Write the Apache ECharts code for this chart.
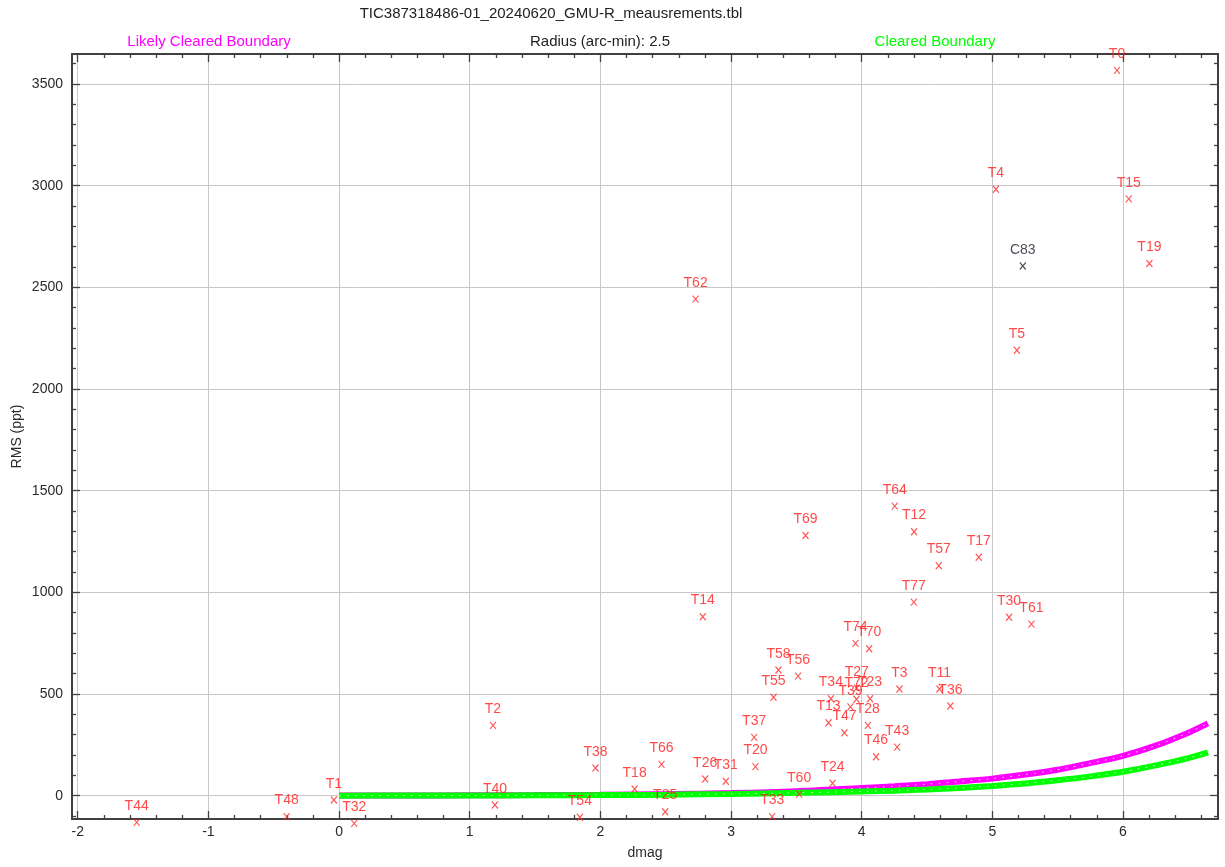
<!DOCTYPE html>
<html>
<head>
<meta charset="utf-8">
<script src="https://cdn.jsdelivr.net/npm/echarts@6/dist/echarts.min.js"></script>
<style>
html,body{margin:0;padding:0;background:#fff;}
#chart{width:1225px;height:867px;}
</style>
</head>
<body>
<div id="chart"></div>
<script>
// ---- data ----
const targetNames = ['T0','T4','T15','T19','T5','T62','T64','T12','T69','T57','T17','T77','T14','T30','T61','T74','T70','T58','T56','T55','T3','T11','T36','T27','T72','T23','T34','T39','T13','T47','T28','T46','T43','T37','T20','T24','T60','T33','T26','T31','T66','T38','T18','T25','T54','T2','T40','T1','T32','T48','T44'];
const targetDmag = [5.954,5.027,6.044,6.202,5.188,2.729,4.253,4.401,3.570,4.590,4.896,4.399,2.784,5.128,5.299,3.953,4.057,3.363,3.513,3.325,4.289,4.595,4.679,3.962,3.960,4.064,3.764,3.914,3.746,3.868,4.047,4.110,4.271,3.177,3.187,3.777,3.521,3.315,2.802,2.960,2.468,1.963,2.262,2.496,1.843,1.178,1.193,-0.039,0.116,-0.401,-1.549];
const targetRms = [3567,2982,2935,2617,2191,2442,1424,1298,1280,1131,1173,952,880,878,844,749,723,618,588,484,525,525,441,529,474,477,477,437,359,310,346,192,239,287,143,61,8,-103,82,71,154,136,33,-79,-106,346,-46,-21,-136,-103,-131];

const compNames = ['C83'];
const compDmag = [5.233];
const compRms = [2605];

const curveDmag = [0,0.5,1,1.5,2,2.5,3,3.5,4,4.25,4.5,4.75,5,5.25,5.5,5.75,6,6.25,6.5,6.65];
const likelyClearedRms = [1,1,2,3,5,8,13,22,38,46,57,70,84,104,128,160,196,246,310,356];
const clearedRms = [0,1,1,2,3,5,9,14,21,25,31,38,48,60,76,95,118,149,185,213];

const xMajorTicks = [-2,-1,0,1,2,3,4,5,6];
const xMinorTicks = [-1.8,-1.6,-1.4,-1.2,-0.8,-0.6,-0.4,-0.2,0.2,0.4,0.6,0.8,1.2,1.4,1.6,1.8,2.2,2.4,2.6,2.8,3.2,3.4,3.6,3.8,4.2,4.4,4.6,4.8,5.2,5.4,5.6,5.8,6.2,6.4,6.6];
const yMajorTicks = [0,500,1000,1500,2000,2500,3000,3500];
const yMinorTicks = [-100,100,200,300,400,600,700,800,900,1100,1200,1300,1400,1600,1700,1800,1900,2100,2200,2300,2400,2600,2700,2800,2900,3100,3200,3300,3400,3600];

const X_MIN = -2.044, X_MAX = 6.727, Y_MIN = -114.5, Y_MAX = 3647.5;

// ---- styling ----
const FONT = '"Liberation Sans", Arial, sans-serif';
const AXIS_COLOR = '#404040';
const GRID_COLOR = '#c8c8c8';

function makeAxis(kind, position, ticks, len, main) {
  return {
    type: 'value', position: position, min: kind === 'x' ? X_MIN : Y_MIN, max: kind === 'x' ? X_MAX : Y_MAX,
    splitNumber: 8,
    axisLine: { show: !!main, onZero: false, lineStyle: { color: AXIS_COLOR, width: 2 } },
    axisTick: { show: true, inside: true, length: len, customValues: ticks, lineStyle: { color: AXIS_COLOR, width: 1.3 } },
    axisLabel: { show: false },
    splitLine: { show: false },
    minorTick: { show: false },
    minorSplitLine: { show: false }
  };
}

const plainNum = v => String(v);

const xMain = makeAxis('x', 'bottom', xMajorTicks, 8, true);
xMain.axisLabel = { show: true, customValues: xMajorTicks, formatter: plainNum, fontSize: 14, fontFamily: FONT, color: '#2a2a2a', margin: 6 };
xMain.splitLine = { show: true, lineStyle: { color: GRID_COLOR, width: 1 } };
xMain.name = 'dmag';
xMain.nameLocation = 'middle';
xMain.nameGap = 27;
xMain.nameMoveOverlap = false;
xMain.nameTextStyle = { fontSize: 14, fontFamily: FONT, color: '#2a2a2a' };

const yMain = makeAxis('y', 'left', yMajorTicks, 8, true);
yMain.axisLabel = { show: true, customValues: yMajorTicks, formatter: plainNum, fontSize: 14, fontFamily: FONT, color: '#2a2a2a', margin: 9 };
yMain.splitLine = { show: true, lineStyle: { color: GRID_COLOR, width: 1 } };
yMain.name = 'RMS (ppt)';
yMain.nameLocation = 'middle';
yMain.nameGap = 48;
yMain.nameRotate = 90;
yMain.nameMoveOverlap = false;
yMain.nameTextStyle = { fontSize: 14, fontFamily: FONT, color: '#2a2a2a' };

const option = {
  animation: false,
  backgroundColor: '#ffffff',
  grid: { left: 72, right: 7, top: 54, bottom: 48, containLabel: false, outerBoundsMode: 'none' },
  graphic: [
    { type: 'text', x: 551, y: 14, style: { text: 'TIC387318486-01_20240620_GMU-R_meausrements.tbl', font: '15px ' + FONT, fill: '#222', align: 'center', verticalAlign: 'middle' } },
    { type: 'text', x: 209, y: 42, style: { text: 'Likely Cleared Boundary', font: '15px ' + FONT, fill: '#ff00ff', align: 'center', verticalAlign: 'middle' } },
    { type: 'text', x: 600, y: 42, style: { text: 'Radius (arc-min): 2.5', font: '15px ' + FONT, fill: '#222', align: 'center', verticalAlign: 'middle' } },
    { type: 'text', x: 935, y: 42, style: { text: 'Cleared Boundary', font: '15px ' + FONT, fill: '#00ff00', align: 'center', verticalAlign: 'middle' } }
  ],
  xAxis: [
    xMain,
    makeAxis('x', 'bottom', xMinorTicks, 4, false),
    makeAxis('x', 'top', xMajorTicks, 8, true),
    makeAxis('x', 'top', xMinorTicks, 4, false)
  ],
  yAxis: [
    yMain,
    makeAxis('y', 'left', yMinorTicks, 4, false),
    makeAxis('y', 'right', yMajorTicks, 8, true),
    makeAxis('y', 'right', yMinorTicks, 4, false)
  ],
  series: [
    {
      name: 'Likely Cleared Boundary', type: 'line', xAxisIndex: 0, yAxisIndex: 0,
      data: curveDmag.map((d, i) => [d, likelyClearedRms[i]]),
      showSymbol: false, smooth: 0.3, z: 2,
      lineStyle: { color: '#ff00ff', width: 6 }
    },
    {
      name: 'Likely Cleared Boundary dots', type: 'line', xAxisIndex: 0, yAxisIndex: 0,
      data: curveDmag.map((d, i) => [d, likelyClearedRms[i]]),
      showSymbol: false, smooth: 0.3, z: 2,
      lineStyle: { color: '#ffe6ff', width: 1, type: [1.5, 6.5] }
    },
    {
      name: 'Cleared Boundary', type: 'line', xAxisIndex: 0, yAxisIndex: 0,
      data: curveDmag.map((d, i) => [d, clearedRms[i]]),
      showSymbol: false, smooth: 0.3, z: 3,
      lineStyle: { color: '#00ff00', width: 6 }
    },
    {
      name: 'Cleared Boundary dots', type: 'line', xAxisIndex: 0, yAxisIndex: 0,
      data: curveDmag.map((d, i) => [d, clearedRms[i]]),
      showSymbol: false, smooth: 0.3, z: 3,
      lineStyle: { color: '#e6ffe6', width: 1, type: [1.5, 6.5] }
    },
    {
      name: 'Targets', type: 'scatter', xAxisIndex: 0, yAxisIndex: 0, clip: false, z: 5,
      data: targetNames.map((n, i) => ({ name: n, value: [targetDmag[i], targetRms[i]] })),
      symbol: 'path://M0,0L10,10M10,0L0,10', symbolSize: [6, 7],
      itemStyle: { color: 'rgba(0,0,0,0)', borderColor: '#ff2a2a', borderWidth: 1.2 },
      label: { show: true, position: 'top', distance: 5, formatter: '{b}', fontSize: 14, fontFamily: FONT, color: '#ff1a1a' },
      emphasis: { disabled: true }
    },
    {
      name: 'Comparison', type: 'scatter', xAxisIndex: 0, yAxisIndex: 0, clip: false, z: 5,
      data: compNames.map((n, i) => ({ name: n, value: [compDmag[i], compRms[i]] })),
      symbol: 'path://M0,0L10,10M10,0L0,10', symbolSize: [6, 7],
      itemStyle: { color: 'rgba(0,0,0,0)', borderColor: '#202030', borderWidth: 1.2 },
      label: { show: true, position: 'top', distance: 5, formatter: '{b}', fontSize: 14, fontFamily: FONT, color: '#202030' },
      emphasis: { disabled: true }
    }
  ]
};

const chart = echarts.init(document.getElementById('chart'), null, { renderer: 'canvas' });
chart.setOption(option);
</script>
</body>
</html>
